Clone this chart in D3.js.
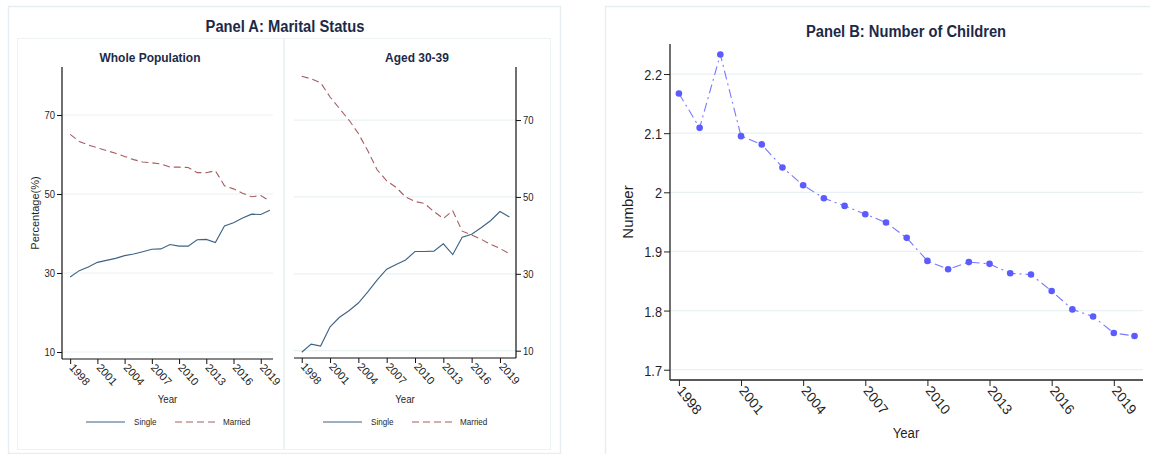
<!DOCTYPE html>
<html>
<head>
<meta charset="utf-8">
<script src="https://cdn.jsdelivr.net/npm/d3@7"></script>
<style>
  body { margin: 0; background: #fff; }
  svg { display: block; font-family: "Liberation Sans", Arial, sans-serif; }
</style>
</head>
<body>
<svg width="1150" height="454"></svg>
<script>
const years = [1998, 1999, 2000, 2001, 2002, 2003, 2004, 2005, 2006, 2007, 2008, 2009,
  2010, 2011, 2012, 2013, 2014, 2015, 2016, 2017, 2018, 2019, 2020];

// Panel A, whole population (%)
const singleWhole = [29.0, 30.6, 31.5, 32.7, 33.2, 33.7, 34.4, 34.8, 35.4, 36.0, 36.1, 37.2,
  36.8, 36.8, 38.4, 38.5, 37.7, 41.9, 42.7, 43.9, 44.9, 44.8, 45.9];
const marriedWhole = [65.1, 63.3, 62.4, 61.7, 61.0, 60.3, 59.5, 58.7, 58.1, 57.9, 57.6, 56.8,
  56.8, 56.7, 55.4, 55.4, 55.9, 52.1, 51.3, 50.2, 49.3, 49.6, 48.2];

// Panel A, aged 30-39 (%)
const single3039 = [9.6, 11.7, 11.2, 16.2, 18.7, 20.4, 22.4, 25.3, 28.4, 31.2, 32.4, 33.6,
  35.8, 35.8, 35.9, 37.8, 35.0, 39.5, 40.3, 42.0, 43.8, 46.2, 44.8];
const married3039 = [81.4, 80.7, 79.7, 76.0, 73.0, 70.0, 66.5, 62.0, 57.0, 54.2, 52.5, 50.0,
  48.8, 48.3, 46.2, 44.4, 46.4, 41.1, 40.1, 39.0, 37.7, 36.6, 35.2];

// Panel B, number of children
const children = [2.167, 2.109, 2.233, 2.095, 2.081, 2.042, 2.012, 1.990, 1.977, 1.963, 1.949, 1.923,
  1.884, 1.870, 1.882, 1.879, 1.863, 1.861, 1.833, 1.802, 1.790, 1.762, 1.757];

const yearTicks = [1998, 2001, 2004, 2007, 2010, 2013, 2016, 2019];
const pctTicks = [10, 30, 50, 70];
const numTicks = [1.7, 1.8, 1.9, 2, 2.1, 2.2];

const navy = "#1a476f", maroon = "#90353b", frame = "#e6eef2", grid = "#eaf1f3";
const textCol = "#1f1f1f", titleCol = "#1c2a48";
const SQ = 0.88;

const svg = d3.select("svg");
svg.append("rect").attr("width", 1150).attr("height", 454).attr("fill", "#fff");

// squeezed text helper (source text is narrow)
function label(g, x, y, txt, o = {}) {
  const t = g.append("text")
    .attr("transform", `translate(${x},${y}) scale(${o.sq ?? SQ},1) rotate(${o.rot || 0})`)
    .attr("text-anchor", o.anchor || "middle")
    .attr("font-size", o.size || 11)
    .attr("font-weight", o.bold ? "bold" : "normal")
    .attr("fill", o.color || textCol)
    .text(txt);
  if (o.dy) t.attr("dy", o.dy);
  return t;
}

// ---------- Panel A ----------
const pa = svg.append("g");
pa.append("rect").attr("x", 8.5).attr("y", 6.5).attr("width", 552).attr("height", 447)
  .attr("fill", "none").attr("stroke", frame).attr("stroke-width", 1.5);
label(pa, 285, 32, "Panel A: Marital Status", { size: 16, bold: true, color: titleCol, sq: 0.92 });

function subplot(cfg) {
  const g = pa.append("g");
  g.append("rect").attr("x", cfg.box[0] + 0.5).attr("y", 38.5)
    .attr("width", cfg.box[1] - cfg.box[0]).attr("height", 411)
    .attr("fill", "none").attr("stroke", "#edf2f5").attr("stroke-width", 1);
  label(g, (cfg.box[0] + cfg.box[1]) / 2, 62, cfg.title, { size: 13, bold: true, color: titleCol, sq: 0.92 });

  const x = d3.scaleLinear().domain(cfg.xDom).range([cfg.left, cfg.right]);
  const y = d3.scaleLinear().domain(cfg.yDom).range([cfg.bottom, 67]);

  g.append("g").selectAll("line").data(pctTicks).join("line")
    .attr("x1", cfg.left).attr("x2", cfg.right)
    .attr("y1", d => y(d)).attr("y2", d => y(d))
    .attr("stroke", grid).attr("stroke-width", 1.2);

  const yAxis = (cfg.side === "left" ? d3.axisLeft(y) : d3.axisRight(y))
    .tickValues(pctTicks).tickSize(5).tickFormat(d => d);
  const ya = g.append("g")
    .attr("transform", `translate(${cfg.side === "left" ? cfg.left : cfg.right},0)`)
    .call(yAxis);
  ya.select(".domain").attr("d", `M0,${cfg.bottom}V67`).attr("stroke", "#111").attr("stroke-width", 1.2);
  ya.selectAll(".tick line").attr("stroke", "#111");
  ya.selectAll(".tick text").remove();
  ya.selectAll(".tick").each(function (d) {
    label(d3.select(this), cfg.side === "left" ? -7 : 7, 3.5, d,
      { size: 10, anchor: cfg.side === "left" ? "end" : "start", sq: 0.95 });
  });

  const xa = g.append("g").attr("transform", `translate(0,${cfg.bottom})`)
    .call(d3.axisBottom(x).tickValues(yearTicks).tickSize(5).tickFormat(d => d));
  xa.select(".domain").attr("d", `M${cfg.left},0H${cfg.right}`).attr("stroke", "#111").attr("stroke-width", 1.2);
  xa.selectAll(".tick line").attr("stroke", "#111");
  xa.selectAll(".tick text").remove();
  xa.selectAll(".tick").each(function (d) {
    label(d3.select(this), -2, 9, d, { size: 11, anchor: "start", rot: 48, sq: 1 });
  });

  label(g, (cfg.left + cfg.right) / 2, 403, "Year", { size: 11 });

  const line = d3.line().x((d, i) => x(years[i])).y(d => y(d));
  g.append("path").datum(cfg.single).attr("d", line)
    .attr("fill", "none").attr("stroke", navy).attr("stroke-width", 1.1).attr("stroke-opacity", 0.85);
  g.append("path").datum(cfg.married).attr("d", line)
    .attr("fill", "none").attr("stroke", maroon).attr("stroke-width", 1.1).attr("stroke-opacity", 0.8)
    .attr("stroke-dasharray", "7,4");

  // legend
  const lg = g.append("g").attr("transform", `translate(${cfg.legX},422)`);
  lg.append("line").attr("x1", 0).attr("x2", 39).attr("stroke", navy).attr("stroke-width", 1.1).attr("stroke-opacity", 0.85);
  label(lg, 48, 3, "Single", { size: 8.5, anchor: "start", sq: 0.95 });
  lg.append("line").attr("x1", 89).attr("x2", 129).attr("stroke", maroon).attr("stroke-width", 1.1)
    .attr("stroke-opacity", 0.8).attr("stroke-dasharray", "7,4");
  label(lg, 137, 3, "Married", { size: 8.5, anchor: "start", sq: 0.95 });
}

subplot({
  box: [17, 283], title: "Whole Population", side: "left",
  left: 62, right: 273, bottom: 359, xDom: [1997.1, 2020.35], yDom: [8.23, 82.15],
  single: singleWhole, married: marriedWhole, legX: 86
});
subplot({
  box: [284, 550], title: "Aged 30-39", side: "right",
  left: 294, right: 516, bottom: 358, xDom: [1997.18, 2020.7], yDom: [8.1, 83.8],
  single: single3039, married: married3039, legX: 323
});
label(pa, 39, 213, "Percentage(%)", { size: 11, rot: -90, sq: 1 });

// ---------- Panel B ----------
const pb = svg.append("g");
pb.append("rect").attr("x", 605.5).attr("y", 6.5).attr("width", 560).attr("height", 460)
  .attr("fill", "none").attr("stroke", frame).attr("stroke-width", 1.5);
label(pb, 906, 37, "Panel B: Number of Children", { size: 16, bold: true, color: titleCol, sq: 0.92 });

const bl = 670, br = 1143, bb = 380, bt = 44;
const xB = d3.scaleLinear().domain([1997.57, 2020.41]).range([bl, br]);
const yB = d3.scaleLinear().domain([1.6826, 2.2508]).range([bb, bt]);

pb.append("g").selectAll("line").data(numTicks).join("line")
  .attr("x1", bl).attr("x2", br).attr("y1", d => yB(d)).attr("y2", d => yB(d))
  .attr("stroke", grid).attr("stroke-width", 1.2);

const yaB = pb.append("g").attr("transform", `translate(${bl},0)`)
  .call(d3.axisLeft(yB).tickValues(numTicks).tickSize(6).tickFormat(d3.format("")));
yaB.select(".domain").attr("d", `M0,${bb}V${bt}`).attr("stroke", "#222").attr("stroke-width", 1.3);
yaB.selectAll(".tick line").attr("stroke", "#222");
yaB.selectAll(".tick text").remove();
yaB.selectAll(".tick").each(function (d) {
  label(d3.select(this), -8, 5.5, d3.format("")(d), { size: 15, anchor: "end", sq: 0.85 });
});

const xaB = pb.append("g").attr("transform", `translate(0,${bb})`)
  .call(d3.axisBottom(xB).tickValues(yearTicks).tickSize(6).tickFormat(d => d));
xaB.select(".domain").attr("d", `M${bl},0H${br}`).attr("stroke", "#222").attr("stroke-width", 1.3);
xaB.selectAll(".tick line").attr("stroke", "#222");
xaB.selectAll(".tick text").remove();
xaB.selectAll(".tick").each(function (d) {
  label(d3.select(this), -3, 11, d, { size: 14.5, anchor: "start", rot: 50, sq: 0.92 });
});

label(pb, 906, 438, "Year", { size: 15 });
label(pb, 633, 212, "Number", { size: 15, rot: -90, sq: 1 });

pb.append("path").datum(children)
  .attr("d", d3.line().x((d, i) => xB(years[i])).y(d => yB(d)))
  .attr("fill", "none").attr("stroke", "#7878ff").attr("stroke-width", 1.1)
  .attr("stroke-dasharray", "9,4,2,4");
pb.append("g").selectAll("circle").data(children).join("circle")
  .attr("cx", (d, i) => xB(years[i]))
  .attr("cy", d => yB(d))
  .attr("r", 3.3)
  .attr("fill", "#5b5bff");
</script>
</body>
</html>
